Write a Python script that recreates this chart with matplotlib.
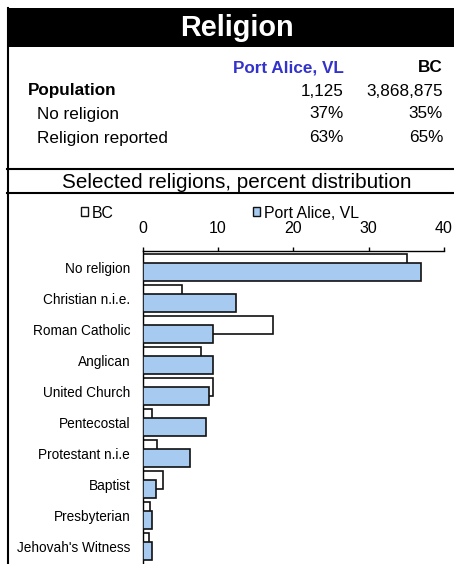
import matplotlib
matplotlib.use("Agg")
import matplotlib.pyplot as plt
import numpy as np
from matplotlib.lines import Line2D
from matplotlib.patches import Rectangle

plt.rcParams['font.family'] = ['Liberation Sans', 'DejaVu Sans']

# ---- data ----
title = "Religion"
place = "Port Alice, VL"
prov = "BC"
table_rows = ["Population", "No religion", "Religion reported"]
place_vals = ["1,125", "37%", "63%"]
prov_vals = ["3,868,875", "35%", "65%"]
subtitle = "Selected religions, percent distribution"

categories = ["No religion", "Christian n.i.e.", "Roman Catholic", "Anglican",
              "United Church", "Pentecostal", "Protestant n.i.e", "Baptist",
              "Presbyterian", "Jehovah's Witness"]
bc = [35.1, 5.2, 17.3, 7.7, 9.3, 1.2, 1.9, 2.7, 1.0, 0.8]
pa = [36.9, 12.4, 9.3, 9.3, 8.8, 8.4, 6.3, 1.8, 1.3, 1.3]
xticks = [0, 10, 20, 30, 40]

W, H = 454, 564
fig = plt.figure(figsize=(W / 100, H / 100), dpi=100)

def fx(px):
    return px / W

def fy(py):
    return 1 - py / H

# header band
fig.patches.append(Rectangle((fx(7), fy(47)), 1 - fx(7), fy(8) - fy(47),
                             transform=fig.transFigure, facecolor='black',
                             edgecolor='none', zorder=0))
fig.text(fx(237), fy(28), title, color='white', fontsize=20.8,
         fontweight='bold', ha='center', va='center')

# borders
lw = 1.5
fig.add_artist(Line2D([fx(7.5), fx(7.5)], [fy(8), 0], transform=fig.transFigure,
                      color='black', lw=lw))
fig.add_artist(Line2D([fx(7), 1], [fy(169.5), fy(169.5)], transform=fig.transFigure,
                      color='black', lw=lw))
fig.add_artist(Line2D([fx(7), 1], [fy(192.7), fy(192.7)], transform=fig.transFigure,
                      color='black', lw=lw))

# table
tfs = 12.3
fig.text(fx(344), fy(68), place, color='#3333CC', fontsize=tfs,
         fontweight='bold', ha='right', va='center')
fig.text(fx(443), fy(68), prov, color='black', fontsize=tfs,
         fontweight='bold', ha='right', va='center')
row_y = [91, 114, 138]
row_x = [28, 37, 37]
for i, name in enumerate(table_rows):
    fig.text(fx(row_x[i]), fy(row_y[i]), name, fontsize=tfs,
             fontweight='bold' if i == 0 else 'normal', ha='left', va='center')
    fig.text(fx(344), fy(row_y[i]), place_vals[i], fontsize=tfs, ha='right', va='center')
    fig.text(fx(443), fy(row_y[i]), prov_vals[i], fontsize=tfs, ha='right', va='center')

fig.text(fx(237), fy(182), subtitle, fontsize=14.9, ha='center', va='center')

# chart
ax_l, ax_r, ax_t = 142.7, 444, 251
ax = fig.add_axes([fx(ax_l), 0, fx(ax_r) - fx(ax_l), fy(ax_t)])
y = np.arange(len(categories))
off = 0.145
h = 0.58
ax.barh(y - off, bc, height=h, color='white', edgecolor='#111111', lw=1.2,
        label=prov, zorder=2)
ax.barh(y + off, pa, height=h, color='#A6CAF0', edgecolor='#111111', lw=1.2,
        label=place, zorder=3)
ax.set_ylim(len(categories) - 0.45, -0.52)
ax.set_xlim(0, 40)
ax.set_yticks(y)
ax.set_yticklabels(categories, fontsize=9.8)
ax.tick_params(axis='y', length=0, pad=9)
ax.xaxis.tick_top()
ax.set_xticks(xticks)
ax.set_xticklabels([str(t) for t in xticks], fontsize=11.5)
ax.tick_params(axis='x', length=3, width=1, pad=7.8, direction='out')
for s in ['right', 'bottom']:
    ax.spines[s].set_visible(False)
ax.spines['top'].set_linewidth(1)
ax.spines['left'].set_linewidth(1)

axw = ax_r - ax_l
axh = H - ax_t
leg = ax.legend(ncol=2, loc='center left',
                bbox_to_anchor=((81 - ax_l) / axw, 1 + (ax_t - 213) / axh),
                frameon=False, fontsize=11.4, handlelength=0.45, handleheight=0.5,
                handletextpad=0.25, columnspacing=8.75, borderaxespad=0, borderpad=0)
for p in leg.get_patches():
    p.set_linewidth(1.0)

fig.savefig("out.png", dpi=100)
